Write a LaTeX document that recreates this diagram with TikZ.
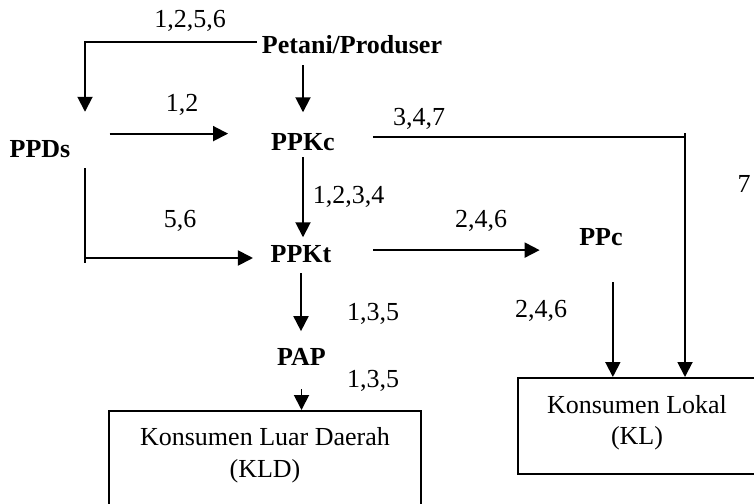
\documentclass[tikz,border=0pt]{standalone}
\usepackage{fontspec}
\setmainfont{Liberation Serif}
\usetikzlibrary{arrows.meta}
\begin{document}
\begin{tikzpicture}[x=1pt,y=-1pt,
  lbl/.style={font=\fontsize{26}{31}\selectfont, inner sep=0pt, anchor=base},
  bld/.style={lbl, font=\fontsize{26}{31}\selectfont\bfseries},
  ln/.style={line width=1.9pt},
  arr/.style={ln, -{Triangle[length=15pt,width=15pt]}},
  box/.style={draw, line width=1.8pt, inner sep=0pt, anchor=north west}]
\useasboundingbox (0,0) rectangle (754,503);

% main nodes
\node[bld] (Pet) at (352,53) {Petani/Produser};
\node[bld] (PPDs) at (40,157) {PPDs};
\node[bld] (PPKc) at (303,150) {PPKc};
\node[bld] (PPKt) at (301,262) {PPKt};
\node[bld] (PPc) at (601,245) {PPc};
\node[bld] (PAP) at (301.5,365) {PAP};
\node[box, minimum width=312pt, minimum height=110pt] (KLD) at (108,410) {};
\node[box, minimum width=240pt, minimum height=96pt] (KL) at (517,377) {};
\node[lbl] (KLDa) at (265,445) {Konsumen Luar Daerah};
\node[lbl] (KLDb) at (265,477) {(KLD)};
\node[lbl] (KLa) at (637,413) {Konsumen Lokal};
\node[lbl] (KLb) at (637,444) {(KL)};

% labels
\node[lbl] (t1) at (190,28) {1,2,5,6};
\node[lbl] (t2) at (182,111) {1,2};
\node[lbl] (t3) at (419,125) {3,4,7};
\node[lbl] (t4) at (744,192) {7};
\node[lbl] (t5) at (348.5,203) {1,2,3,4};
\node[lbl] (t6) at (180,227) {5,6};
\node[lbl] (t7) at (481,227) {2,4,6};
\node[lbl] (t8) at (541,317) {2,4,6};
\node[lbl] (t9) at (373,320) {1,3,5};
\node[lbl] (t10) at (373,387) {1,3,5};

% connectors
\coordinate (j1) at (85,42);
\draw[arr, shorten <=5pt, shorten >=28pt] (j1 -| Pet.west) -- (j1) -- (j1 |- PPDs.north);
\draw[arr, shorten <=12pt, shorten >=20.5pt] (Pet.base -| PPKc.north) -- (PPKc.north);
\draw[arr, shorten <=39pt, shorten >=43pt] ([yshift=15pt]PPDs.east) -- ([yshift=15pt]PPDs.east -| PPKc.west);
\draw[arr, shorten <=7pt, shorten >=7.5pt] (PPKc.south) -- (PPKc.south |- PPKt.north);

\coordinate (j3) at (685,137);
\draw[ln, line width=1.6pt, shorten <=38pt] (j3 -| PPKc.east) -- (j3);
\draw[arr] ([yshift=4pt]j3) -- (j3 |- KL.north);

\coordinate (j4) at (85,258);
\draw[ln, shorten <=11pt] (j4 |- PPDs.south) -- ([yshift=-5pt]j4);
\draw[arr, shorten >=17.5pt] (j4) -- (j4 -| PPKt.west);

\draw[arr, shorten <=41.5pt, shorten >=39.5pt] ([yshift=3.5pt]PPKt.east) -- ([yshift=3.5pt]PPKt.east -| PPc.west);
\draw[arr, shorten <=37pt] ([xshift=-10pt]PPc.south east) -- ([xshift=-10pt]PPc.south east |- KL.north);
\draw[arr, shorten <=11pt, shorten >=16.5pt] (PPKt.south) -- (PPKt.south |- PAP.north);
\draw[arr, shorten <=24pt] (PAP.south) -- (PAP.south |- KLD.north);
\end{tikzpicture}
\end{document}
